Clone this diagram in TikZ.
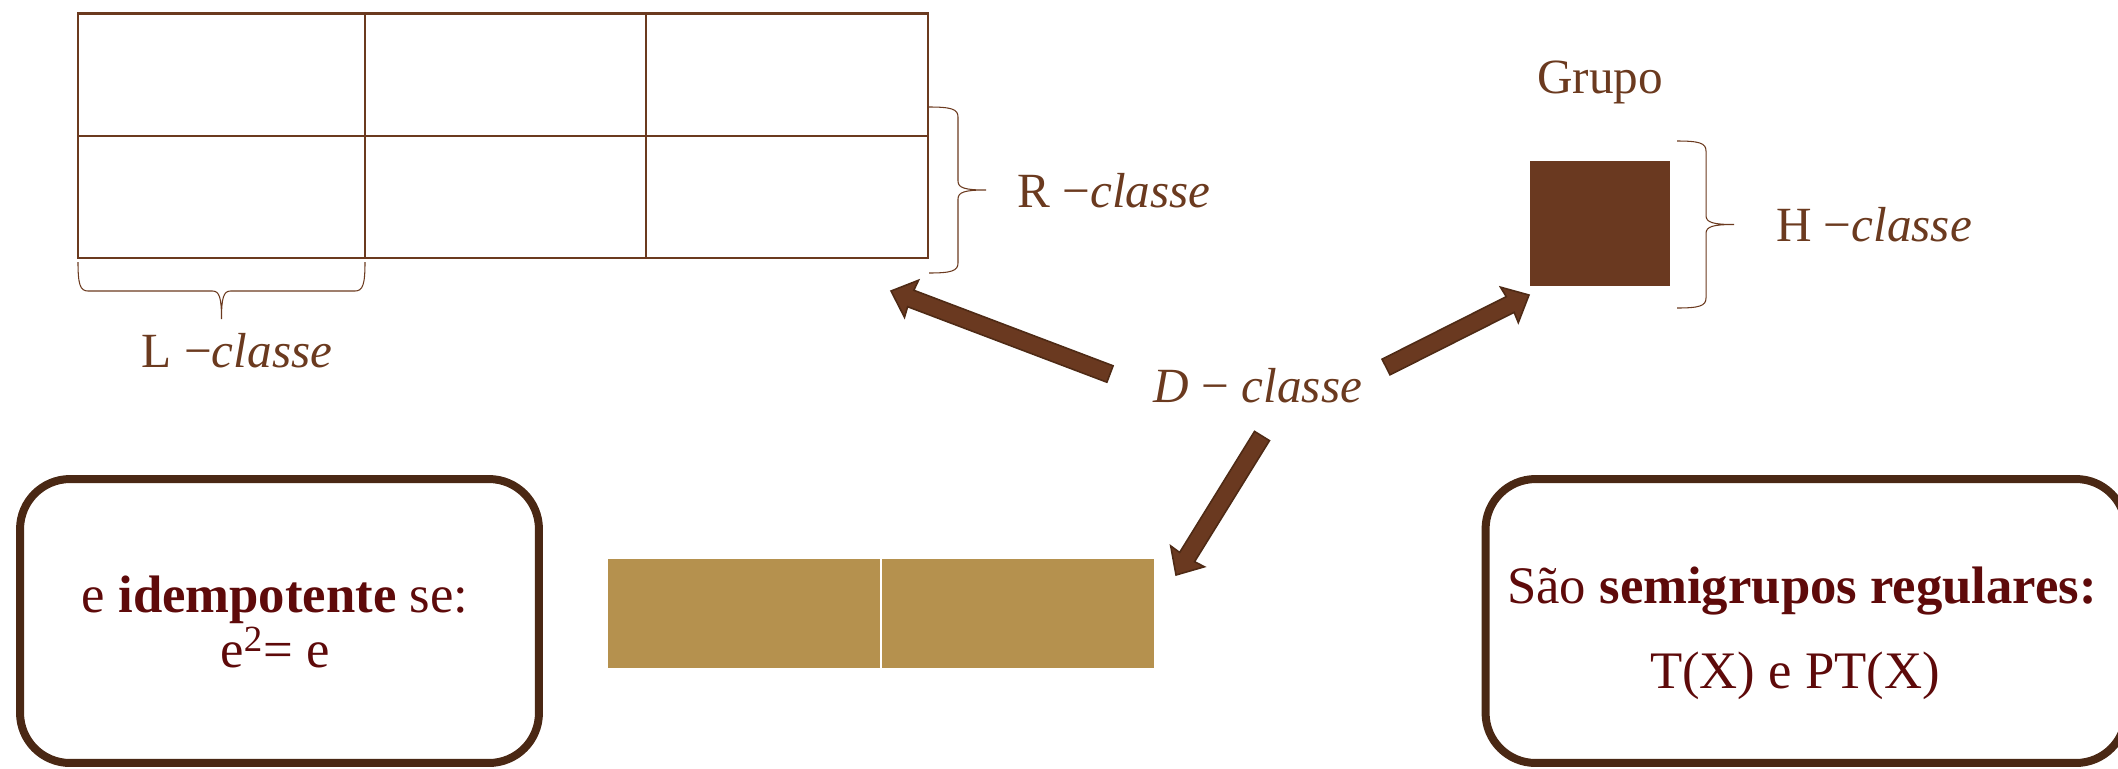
\documentclass[tikz,border=0pt]{standalone}
\usepackage{fontspec}
\setmainfont{Liberation Serif}
\usetikzlibrary{calc}
\definecolor{lbrown}{HTML}{6B3A1F}
\definecolor{abrown}{HTML}{6A3920}
\definecolor{aedge}{HTML}{4E2A15}
\definecolor{boxedge}{HTML}{4A2814}
\definecolor{dred}{HTML}{5E0A0A}
\definecolor{goldc}{HTML}{B5914E}
\tikzset{
  gridline/.style={draw=lbrown, line width=1.3pt},
  lbl/.style={text=lbrown, font=\fontsize{28}{32}\selectfont, inner sep=0pt},
  boxtxt/.style={text=dred, font=\fontsize{30}{34}\selectfont, inner sep=0pt},
  bracestyle/.style={draw=lbrown, line width=0.6pt},
  roundbox/.style={draw=boxedge, line width=0.16cm, rounded corners=1cm, fill=white, inner sep=0pt},
  goldbox/.style={fill=goldc, draw=white, line width=0.8pt, inner sep=0pt, minimum width=5.48cm, minimum height=2.22cm},
  hbox/.style={fill=abrown, draw=none, inner sep=0pt, minimum width=2.8cm, minimum height=2.5cm},
  fatarrow/.style={fill=abrown, draw=aedge, line width=0.9pt, line join=miter}
}
\newcommand{\fatarr}[2]{%
  \path[fatarrow]
    ($(#1)!5pt!90:(#2)$) --
    ($($(#2)!12pt!(#1)$)!5pt!-90:(#1)$) --
    ($($(#2)!12.5pt!(#1)$)!11.3pt!-90:(#1)$) --
    (#2) --
    ($($(#2)!12.5pt!(#1)$)!11.3pt!90:(#1)$) --
    ($($(#2)!12pt!(#1)$)!5pt!90:(#1)$) --
    ($(#1)!5pt!-90:(#2)$) -- cycle;}
% vertical brace opening left, tip to the right: x0, ytop, ybottom
\newcommand{\vbr}[3]{%
  \draw[bracestyle] (#1,#2) .. controls ({#1+22},#2) and ({#1+29},{#2+2}) .. ({#1+29},{#2+10})
    -- ({#1+29},{(#2+#3)/2-9}) .. controls ({#1+29},{(#2+#3)/2-2}) and ({#1+36},{(#2+#3)/2}) .. ({#1+57},{(#2+#3)/2})
    .. controls ({#1+36},{(#2+#3)/2}) and ({#1+29},{(#2+#3)/2+2}) .. ({#1+29},{(#2+#3)/2+9})
    -- ({#1+29},{#3-10}) .. controls ({#1+29},{#3-2}) and ({#1+22},#3) .. (#1,#3);}
% horizontal brace opening up, tip downwards: y0, xleft, xright
\newcommand{\hbr}[3]{%
  \draw[bracestyle] (#2,#1) .. controls (#2,{#1+22}) and ({#2+2},{#1+29}) .. ({#2+10},{#1+29})
    -- ({(#2+#3)/2-9},{#1+29}) .. controls ({(#2+#3)/2-2},{#1+29}) and ({(#2+#3)/2},{#1+36}) .. ({(#2+#3)/2},{#1+57})
    .. controls ({(#2+#3)/2},{#1+36}) and ({(#2+#3)/2+2},{#1+29}) .. ({(#2+#3)/2+9},{#1+29})
    -- ({#3-10},{#1+29}) .. controls ({#3-2},{#1+29}) and (#3,{#1+22}) .. (#3,#1);}
\begin{document}
\begin{tikzpicture}[x=0.02cm,y=-0.02cm]
\useasboundingbox (0,0) rectangle (2118,768);
% grid of cells
\draw[gridline] (78,13.5) rectangle (928,258);
\draw[gridline] (78,136) -- (928,136);
\draw[gridline] (365,13.5) -- (365,258);
\draw[gridline] (646,13.5) -- (646,258);
% braces
\vbr{929}{107}{273}
\hbr{262}{78}{365}
\vbr{1677}{141}{308}
% labels
\node[lbl, anchor=base] (rlab) at (1114,207) {R −\textit{classe}};
\node[lbl, anchor=base] (llab) at (237,367) {L −\textit{classe}};
\node[lbl, anchor=base] (hlab) at (1874,241) {H −\textit{classe}};
\node[lbl, anchor=base] (grupo) at (1600,93) {Grupo};
\node[lbl, anchor=base] (dlab) at (1258,402) {\textit{D} − \textit{classe}};
% H-class square
\node[hbox] (hsq) at (1600,223.5) {};
% gold boxes
\node[goldbox] (g1) at (744,613.5) {};
\node[goldbox] (g2) at (1018,613.5) {};
% rounded boxes
\node[roundbox, minimum width=10.38cm, minimum height=5.68cm] (lbox) at (279.5,621) {};
\node[roundbox, minimum width=12.81cm, minimum height=5.68cm] (rbox) at (1805.75,621) {};
\node[boxtxt, anchor=base] (idem1) at (275,612) {e \textbf{idempotente} se:};
\node[boxtxt, anchor=base] (idem2) at (275,667) {e\textsuperscript{2}= e};
\node[boxtxt, anchor=base] (reg1) at (1802,603) {São \textbf{semigrupos regulares:}};
\node[boxtxt, anchor=base] (reg2) at (1795,688) {T(X) e PT(X)};
% arrows
\coordinate (a1s) at (1110,374);
\coordinate (a1t) at (891,291);
\coordinate (a2s) at (1386,367);
\coordinate (a2t) at (1529,295);
\coordinate (a3s) at (1262,436);
\coordinate (a3t) at (1176,575);
\fatarr{a1s}{a1t}
\fatarr{a2s}{a2t}
\fatarr{a3s}{a3t}
\end{tikzpicture}
\end{document}
